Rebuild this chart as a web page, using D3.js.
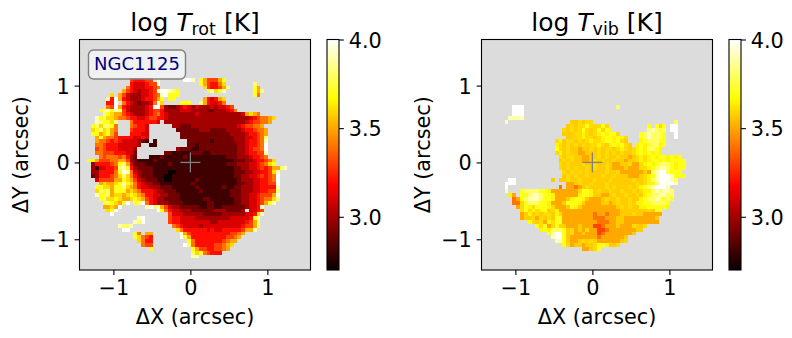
<!DOCTYPE html>
<html><head><meta charset="utf-8">
<script src="https://cdn.jsdelivr.net/npm/d3@7"></script>
<style>html,body{margin:0;background:#fff}svg{display:block}text{font-family:"DejaVu Sans";fill:#000}</style>
</head><body><svg id="c" width="792" height="338"></svg>
<script>
// Each entry is one grid row: "col|levels" runs, one character per cell.
const rotRows = [
"13|655566 20|c 27|ddc 31|a86668a",
"13|5444566 20|d 31|a865579 45|b",
"12|754445567 32|965568b 45|a8",
"11|865434456 20|cddcba 33|ac9ac 45|a8b",
"8|9 10|8643334456 20|7cdaaa 45|a7",
"7|c5d85433345 18|5 19|68a 23|aa 32|854589",
"7|55d 11|754323 17|34 18|47 20|d 21|9 26|aaa 31|b854457",
"7|76d85433334 18|5dd632234543433343 36|4456",
"5|abcacb643333456653333444333322333457",
"6|ba988654333456754333333343333333333345787 43|89",
"4|cab99877655445665543333333333333333333334567789",
"4|cbaa9b 13|75555554 22|3333333333333333333334566778",
"3|ab9bba7 13|76554 24|33222333333333333455 43|66778",
"3|9ab9a87 13|65554 25|222222333222233334556778",
"3|aa89a86 13|55544 26|22222222222223333455678",
"4|8a877655554454 26|22222222222222 40|333 43|44567b",
"4|87765654444321 19|1 28|222222122222 40|3334 44|5567 48|c",
"4|77655544444 15|3 18|11 28|221222222222 40|2334 44|5567 48|d",
"4|6765554444 14|3 25|322211222222222 40|2334 44|5667 48|d",
"4|7766655544 14|2 22|221111122211222222 40|2334 44|5566 48|c",
"5|767776753 14|2 18|1112111112111111111122 40|2333 44|45567",
"2|aa8666778863 14|21111211111111111111111111 40|2223 44|3455 48|679",
"3|3555567ab84 14|222111111211111111111111 38|22 40|2333 44|4456 48|79a",
"3|31445 8|56bca5 14|32222111111111111111111111 40|2233 44|4456 48|5688b 53|c",
"3|335555 9|7adc74 15|3222111100111111111111111 40|2223 44|3445 48|569c",
"3|235556 9|79b975 15|3222111001111111111111111 40|2233 44|4456 48|567d",
"4|46666 9|88a98643 17|222110011111121111111111 41|233 44|3445 48|567d",
"5|89889ac a9754 17|332211111111211111111 38|111 41|223 44|3445 48|566d",
"4|aa99 8|8aab98 14|754 17|4 18|33322211111121111112 38|112 41|233 44|3445 48|555c",
"4|9bab8aaa89875 17|5 18|54332221111112111111 38|122 41|233 44|3445 48|566b",
"4|caab8998 12|9a987 17|5 18|54433222111111111111 38|122 41|233 44|4456 48|668d",
"5|ab99a988 13|9a986 18|54332222111111221111 38|112 41|233 44|4456 48|779b",
"6|aba98ad 14|abd7 18|5 19|4333222211111122111 38|112 41|233 44|4456 48|8ac",
"6|8898d 17|cdbc 21|8643322222112211222222 43|3445 47|c",
"7|9ad 20|da754433322222233322223 44|4456",
"8|d 23|64443333322222333333 43|445 46|9c",
"15|cd 23|65544443333333334444 43|45ac",
"14|cbd 23|65544444444334444444 43|568b",
"10|cbbc 24|7654444344444444445 43|668b",
"11|dd 25|97555555454455555 42|688c",
"14|a7 17|88 26|c8655555555556678",
"14|a9765 26|da85555555556678",
"15|9755 28|a755555556788",
"16|766 27|db75555566789",
"18|a 29|a866556678",
"29|b9a76555",
"29|cc"
];
const rotFirstRow = 10;

const vibRows = [
"8|ddd 35|b",
"8|ddd",
"8|ddd",
"7|cccc",
"6|c 23|uu9u99 50|b",
"22|u9u99a999a9 43|a 45|a9a 49|dd",
"21|9u9u9a9u9a9aw 43|bcbab 49|dd",
"21|uuu99w9u9wawaa9 41|abcbbba 50|d",
"22|uu99w99u9waawaw9 41|abcbbba 50|d",
"19|9wu99u9u9w99waawa9u 41|wabbbaa",
"19|w9u9u9u9u99w9uwawa9u 40|wawabbwa",
"19|a9u9uuvuu9u9u99u9w9u9wawbbaw",
"19|9wu9uuvvuuu9u9u9u9uu9wawawaw",
"20|9u99uuvvuu9u9uu9uuvu9w9wawaawawa",
"20|u9u9uuvvu9u9uu9uuvuu9w9waawawaaaa",
"20|9u9uuu9uu9uu9uvvuu9vv9wawabbbawaa",
"20|9u9u9uu9u9uu9uvvvuvvv99wabccbawaa",
"21|9u9u9u9uuuu9uu9vv8vvvuvbcddbaaa",
"21|u9u9uu9uuu9uu9uuuvvvu9wacdddcaaa",
"7|dd 18|u 20|u 21|u9uu9uuu9uuu9uuuuu9uu9wbcdddcb",
"6|ddd 22|vvu9uu9uuu9uuuuuuu9u9wwbddddc",
"6|d 20|7 22|vv7vu9uuuu9u9uuu9u9wabcdddc",
"6|c 10|abbbbaaw8vvvvv8 25|9aawu9uu9uu9uu9u9wwbcbccb",
"7|w8 10|aabccbaaw88vv8v 25|waawuuvvu9uu9uu9uwabbccbb",
"8|78abcccbaawv8vuwaawu8vvu9uu9uu9uuwabbcbaba",
"8|779abbbaawv8vuaaawuvvvvuuvu9uu9uwwaabbbba",
"9|89aw9aaaw9v8vuawu8v8vvv8vvu9u9uuwwaaaaaw",
"10|9a9w9wau9wv8v8v88v8v8v88vvuuuuuuu9uaa",
"10|8uwu9u99uw9v8v8v8v878v78vvuuu9uuvvvv8",
"10|8uu9v9u9uaa8v8v8v8v7778vvuuvvv88v8vu",
"12|a9u98w9aav88v8v8v87778vuuvv8v8v8v8",
"14|a9a89a9u8v8uv88667v8vuv8v9uu9",
"15|wawbbbau98uv9v8667v8vv8vvuu",
"17|acddau98vu8v867v8vvv8vu",
"18|cddau8v8v8v878v8v8vu",
"19|ccau8vu9u9u8v8v8vu9",
"21|a98uuvuu9aawuu9",
"26|v8u9a"
];
const vibFirstRow = 17;

const cbarTicks = [3.0, 3.5, 4.0];
const axisTicks = [-1, 0, 1];
const levelChars = "0123456789abcdvuw";
const levelValues = [2.7,2.8,2.9,3.0,3.1,3.2,3.3,3.4,3.5,3.6,3.7,3.8,3.9,4.0,3.5,3.57,3.65];
const xExtent = [-1.44, 1.56], yExtent = [-1.4, 1.6];
const cellSize = 0.05;
const vmin = 2.7, vmax = 4.0;
const hotR = [[0,0.0416],[0.365079,1],[1,1]];
const hotG = [[0,0],[0.365079,0],[0.746032,1],[1,1]];
const hotB = [[0,0],[0.746032,0],[1,1]];
const lerp = (s,t)=>d3.scaleLinear().domain(s.map(d=>d[0])).range(s.map(d=>d[1])).clamp(true)(t);
const hot = t=>d3.rgb(lerp(hotR,t)*255,lerp(hotG,t)*255,lerp(hotB,t)*255).formatRgb();
const color = d3.scaleSequential(hot).domain([vmin,vmax]);

function decode(rows, first){
  const out=[];
  rows.forEach((row,i)=>{
    row.split(/ (?=\d+\|)/).forEach(seg=>{
      const [c,s]=seg.split("|");
      let col=+c;
      for(const ch of s){
        if(ch===" ")continue;
        const k=levelChars.indexOf(ch);
        if(k>=0) out.push({row:first+i,col,v:levelValues[k]});
        col++;
      }
    });
  });
  return out;
}

const svg=d3.select("#c");
const H=[39.5,270];
const fs=20.8;

function panel(opts){
  const x=d3.scaleLinear().domain(xExtent).range([opts.left,opts.left+231]);
  const y=d3.scaleLinear().domain(yExtent).range([H[1],H[0]]);
  const g=svg.append("g");
  g.append("rect").attr("x",x.range()[0]).attr("y",H[0]).attr("width",231).attr("height",H[1]-H[0]).attr("fill","#dcdcdc");
  g.append("g").selectAll("rect").data(decode(opts.rows,opts.first)).join("rect")
    .attr("x",d=>x(xExtent[0]+d.col*cellSize))
    .attr("y",d=>y(yExtent[1]-d.row*cellSize))
    .attr("width",x(cellSize)-x(0)).attr("height",y(0)-y(cellSize))
    .attr("shape-rendering","crispEdges")
    .attr("fill",d=>color(d.v));
  const cr=g.append("g").attr("stroke","#808080").attr("stroke-width",1.3);
  cr.append("line").attr("x1",x(0)-10).attr("x2",x(0)+10).attr("y1",y(0)).attr("y2",y(0));
  cr.append("line").attr("x1",x(0)).attr("x2",x(0)).attr("y1",y(0)-10).attr("y2",y(0)+10);
  g.append("rect").attr("x",x.range()[0]).attr("y",H[0]).attr("width",231).attr("height",H[1]-H[0])
    .attr("fill","none").attr("stroke","#000").attr("stroke-width",1.1);
  const ax=g.append("g").attr("transform",`translate(0,${H[1]})`).call(d3.axisBottom(x).tickValues(axisTicks).tickFormat(d3.format("d")).tickSize(4.9).tickPadding(5.8));
  const ay=g.append("g").attr("transform",`translate(${x.range()[0]},0)`).call(d3.axisLeft(y).tickValues(axisTicks).tickFormat(d3.format("d")).tickSize(4.9).tickPadding(4.8));
  ay.selectAll("text").attr("dy","0.36em");
  [ax,ay].forEach(a=>{a.select(".domain").remove();a.selectAll("line").attr("stroke-width",1.1);a.selectAll("text").attr("font-size",fs).attr("font-family","DejaVu Sans");});
  g.append("text").attr("x",opts.left+115.5).attr("y",324).attr("text-anchor","middle").attr("font-size",fs).text("ΔX (arcsec)");
  g.append("text").attr("transform",`translate(${opts.left-52},${(H[0]+H[1])/2}) rotate(-90)`).attr("text-anchor","middle").attr("font-size",fs).text("ΔY (arcsec)");
  const t=g.append("text").attr("x",opts.left+115.5).attr("y",31).attr("text-anchor","middle").attr("font-size",25);
  t.append("tspan").text("log ");
  t.append("tspan").attr("font-style","italic").text("T");
  t.append("tspan").attr("font-size",17.5).attr("dy",3.7).text(opts.sub);
  t.append("tspan").attr("dy",-3.7).text(" [K]");
  const cb=svg.append("g");
  const cy=d3.scaleLinear().domain([vmin,vmax]).range([H[1],H[0]]);
  const cl=opts.left+247.5, cw=12;
  const steps=d3.range(0,231).map(i=>vmin+(vmax-vmin)*i/230);
  cb.selectAll("rect").data(steps).join("rect").attr("x",cl).attr("width",cw)
    .attr("y",d=>cy(d)-1).attr("height",1.2).attr("shape-rendering","crispEdges").attr("fill",d=>color(d));
  cb.append("rect").attr("x",cl).attr("y",H[0]).attr("width",cw).attr("height",H[1]-H[0]).attr("fill","none").attr("stroke","#000").attr("stroke-width",1.1);
  const ac=cb.append("g").attr("transform",`translate(${cl+cw},0)`).call(d3.axisRight(cy).tickValues(cbarTicks).tickFormat(d3.format(".1f")).tickSize(4.9).tickPadding(4.8));
  ac.selectAll("text").attr("dy","0.36em");
  ac.select(".domain").remove();ac.selectAll("line").attr("stroke-width",1.1);ac.selectAll("text").attr("font-size",fs).attr("font-family","DejaVu Sans");
}
panel({left:79.5,rows:rotRows,first:rotFirstRow,sub:"rot"});
panel({left:481.5,rows:vibRows,first:vibFirstRow,sub:"vib"});

svg.append("rect").attr("x",88.5).attr("y",50).attr("width",97).attr("height",29).attr("rx",5)
  .attr("fill","#fff").attr("fill-opacity",0.6).attr("stroke","#808080").attr("stroke-width",1.4);
svg.append("text").attr("x",137).attr("y",70).attr("text-anchor","middle").attr("font-size",18).style("fill","#000080").text("NGC1125");
</script></body></html>
